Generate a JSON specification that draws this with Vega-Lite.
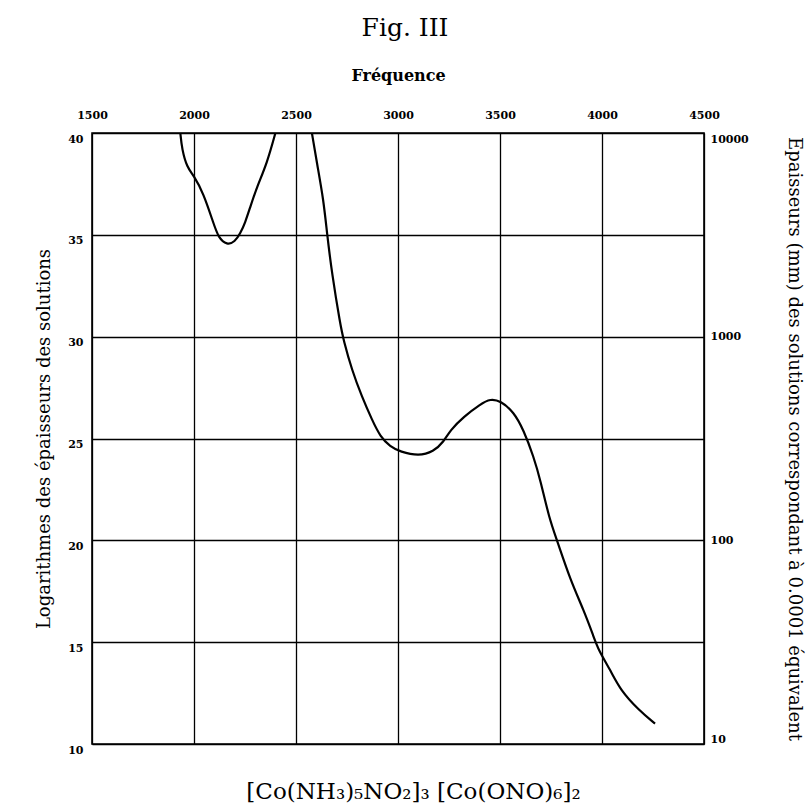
{
  "$schema": "https://vega.github.io/schema/vega-lite/v6.json",
  "width": 612,
  "height": 611,
  "autosize": {"type": "none"},
  "padding": {"left": 92, "top": 133, "right": 106, "bottom": 65},
  "background": "white",
  "title": {
    "text": "Fig. III",
    "font": "DejaVu Serif",
    "fontSize": 25,
    "fontWeight": "normal",
    "color": "black",
    "frame": "group",
    "anchor": "middle",
    "dx": 7,
    "offset": 26
  },
  "config": {
    "view": {"stroke": "black", "strokeWidth": 1.6},
    "axis": {"domain": false, "ticks": false, "tickSize": 0}
  },
  "data": {
    "values": [
      {"nu": 1933, "logd": 40.0, "seg": "a"},
      {"nu": 1941, "logd": 39.2, "seg": "a"},
      {"nu": 1966, "logd": 38.3, "seg": "a"},
      {"nu": 1998, "logd": 37.93, "seg": "a"},
      {"nu": 2046, "logd": 37.05, "seg": "a"},
      {"nu": 2095, "logd": 35.58, "seg": "a"},
      {"nu": 2120, "logd": 34.85, "seg": "a"},
      {"nu": 2162, "logd": 34.5, "seg": "a"},
      {"nu": 2200, "logd": 34.65, "seg": "a"},
      {"nu": 2227, "logd": 35.07, "seg": "a"},
      {"nu": 2251, "logd": 35.6, "seg": "a"},
      {"nu": 2276, "logd": 36.38, "seg": "a"},
      {"nu": 2309, "logd": 37.36, "seg": "a"},
      {"nu": 2358, "logd": 38.52, "seg": "a"},
      {"nu": 2399, "logd": 40.0, "seg": "a"},
      {"nu": 2578, "logd": 40.0, "seg": "b"},
      {"nu": 2603, "logd": 38.5, "seg": "b"},
      {"nu": 2635, "logd": 36.71, "seg": "b"},
      {"nu": 2652, "logd": 35.07, "seg": "b"},
      {"nu": 2676, "logd": 33.11, "seg": "b"},
      {"nu": 2717, "logd": 30.6, "seg": "b"},
      {"nu": 2733, "logd": 29.83, "seg": "b"},
      {"nu": 2774, "logd": 28.36, "seg": "b"},
      {"nu": 2823, "logd": 27.05, "seg": "b"},
      {"nu": 2873, "logd": 25.91, "seg": "b"},
      {"nu": 2913, "logd": 25.09, "seg": "b"},
      {"nu": 2962, "logd": 24.6, "seg": "b"},
      {"nu": 3011, "logd": 24.35, "seg": "b"},
      {"nu": 3101, "logd": 24.14, "seg": "b"},
      {"nu": 3174, "logd": 24.35, "seg": "b"},
      {"nu": 3224, "logd": 24.84, "seg": "b"},
      {"nu": 3256, "logd": 25.41, "seg": "b"},
      {"nu": 3322, "logd": 26.07, "seg": "b"},
      {"nu": 3404, "logd": 26.69, "seg": "b"},
      {"nu": 3453, "logd": 26.95, "seg": "b"},
      {"nu": 3502, "logd": 26.85, "seg": "b"},
      {"nu": 3567, "logd": 26.31, "seg": "b"},
      {"nu": 3616, "logd": 25.41, "seg": "b"},
      {"nu": 3665, "logd": 24.1, "seg": "b"},
      {"nu": 3698, "logd": 22.96, "seg": "b"},
      {"nu": 3742, "logd": 21.05, "seg": "b"},
      {"nu": 3779, "logd": 20.02, "seg": "b"},
      {"nu": 3845, "logd": 18.05, "seg": "b"},
      {"nu": 3910, "logd": 16.58, "seg": "b"},
      {"nu": 3959, "logd": 15.27, "seg": "b"},
      {"nu": 3983, "logd": 14.61, "seg": "b"},
      {"nu": 4041, "logd": 13.63, "seg": "b"},
      {"nu": 4090, "logd": 12.65, "seg": "b"},
      {"nu": 4180, "logd": 11.67, "seg": "b"},
      {"nu": 4260, "logd": 11.0, "seg": "b"}
    ]
  },
  "layer": [
    {
      "transform": [{"filter": "datum.seg === 'a'"}],
      "mark": {"type": "line", "interpolate": "basis", "color": "black", "strokeWidth": 2.2, "clip": true},
      "encoding": {
        "x": {
          "field": "nu", "type": "quantitative",
          "scale": {"domain": [1500, 4500], "nice": false, "zero": false},
          "axis": {
            "orient": "top",
            "values": [1500, 2000, 2500, 3000, 3500, 4000, 4500],
            "format": "d",
            "labelFont": "DejaVu Serif", "labelFontWeight": "bold", "labelFontSize": 11,
            "labelColor": "black", "labelPadding": 13, "labelFlush": false,
            "grid": true, "gridColor": "black", "gridWidth": 1.3, "gridOpacity": 1,
            "title": "Fréquence",
            "titleFont": "DejaVu Serif", "titleFontWeight": "bold", "titleFontSize": 16,
            "titleColor": "black", "titlePadding": 26
          }
        },
        "y": {
          "field": "logd", "type": "quantitative",
          "scale": {"domain": [10, 40], "nice": false, "zero": false},
          "axis": {
            "orient": "left",
            "values": [10, 15, 20, 25, 30, 35, 40],
            "format": "d",
            "labelFont": "DejaVu Serif", "labelFontWeight": "bold", "labelFontSize": 11,
            "labelColor": "black", "labelPadding": 9, "labelOffset": 6, "labelFlush": false,
            "grid": true, "gridColor": "black", "gridWidth": 1.3, "gridOpacity": 1,
            "title": "Logarithmes des épaisseurs des solutions",
            "titleFont": "DejaVu Serif", "titleFontWeight": "normal", "titleFontSize": 18,
            "titleColor": "black", "titlePadding": 14
          }
        }
      }
    },
    {
      "transform": [{"filter": "datum.seg === 'b'"}],
      "mark": {"type": "line", "interpolate": "basis", "color": "black", "strokeWidth": 2.2, "clip": true},
      "encoding": {
        "x": {
          "field": "nu", "type": "quantitative",
          "scale": {"domain": [1500, 4500], "nice": false, "zero": false},
          "axis": {
            "orient": "bottom",
            "labels": false, "grid": false,
            "title": "[Co(NH₃)₅NO₂]₃ [Co(ONO)₆]₂",
            "titleFont": "DejaVu Serif", "titleFontWeight": "normal", "titleFontSize": 23,
            "titleColor": "black", "titlePadding": 36, "titleX": 321, "titleAlign": "center"
          }
        },
        "y": {
          "field": "logd", "type": "quantitative",
          "scale": {"domain": [10, 40], "nice": false, "zero": false},
          "axis": {
            "orient": "right",
            "values": [10, 20, 30, 40],
            "labelExpr": "format(pow(10, datum.value / 10), 'd')",
            "labelFont": "DejaVu Serif", "labelFontWeight": "bold", "labelFontSize": 11,
            "labelColor": "black", "labelPadding": 6, "labelFlush": true,
            "grid": false,
            "title": "Epaisseurs (mm) des solutions correspondant à 0.0001 équivalent",
            "titleFont": "DejaVu Serif", "titleFontWeight": "normal", "titleFontSize": 18,
            "titleColor": "black", "titlePadding": 36, "titleAngle": 90
          }
        }
      }
    }
  ],
  "resolve": {"axis": {"x": "independent", "y": "independent"}}
}
